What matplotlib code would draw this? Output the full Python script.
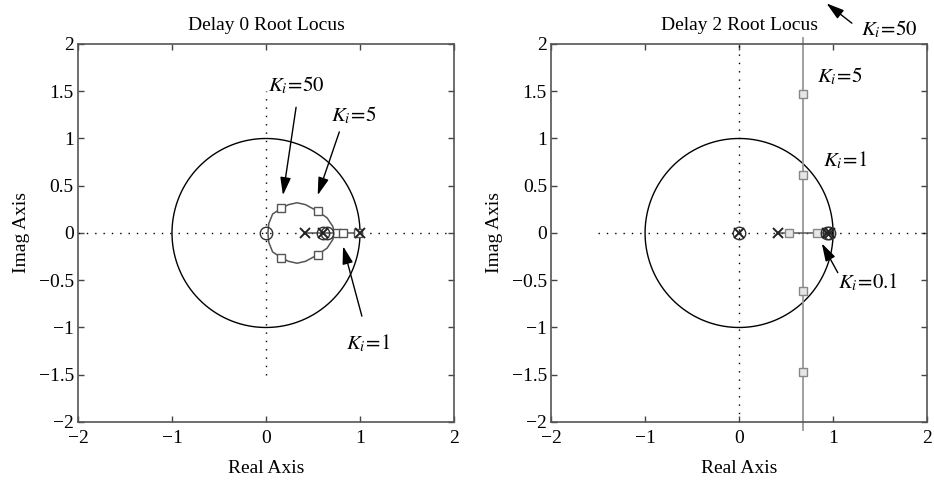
import matplotlib
matplotlib.use('Agg')
import matplotlib.pyplot as plt
import numpy as np

plt.rcParams['font.family'] = ['Liberation Serif', 'DejaVu Serif']
plt.rcParams['mathtext.fontset'] = 'stix'

# axis ticks
x_ticks = [-2, -1, 0, 1, 2]
x_labels = ['\u22122', '\u22121', '0', '1', '2']
y_ticks = [-2, -1.5, -1, -0.5, 0, 0.5, 1, 1.5, 2]
y_labels = ['\u22122', '\u22121.5', '\u22121', '\u22120.5', '0', '0.5', '1', '1.5', '2']

# delay 0 locus (upper half of the loop, lower half is the conjugate)
loop_x = [0.73, 0.71, 0.65, 0.55, 0.42, 0.33, 0.24, 0.16, 0.07, 0.03, 0.02]
loop_y = [0.00, 0.07, 0.16, 0.23, 0.30, 0.32, 0.30, 0.26, 0.20, 0.10, 0.00]
d0_real_seg = [0.41, 1.0]
d0_poles = [0.41, 0.61, 1.0]
d0_zeros = [0.0, 0.61, 0.65]
d0_sq_x = [0.16, 0.55, 0.16, 0.55, 0.75, 0.82, 0.98]
d0_sq_y = [0.26, 0.23, -0.26, -0.23, 0.0, 0.0, 0.0]

# delay 2 locus
d2_real_seg = [0.41, 0.97]
d2_vert_x = 0.68
d2_vert_y = [-2.08, 2.06]
d2_poles = [0.0, 0.41, 0.93, 0.97]
d2_zeros = [0.0, 0.93, 0.96]
d2_sq_x = [0.53, 0.83, 0.68, 0.68, 0.68, 0.68]
d2_sq_y = [0.0, 0.0, 1.47, 0.61, -0.61, -1.47]

# gain labels: (text, text x, text y, arrow tail, arrow head)
d0_notes = [
    (r'$K_i\!=\!50$', 0.32, 1.56, (0.32, 1.33), (0.18, 0.40)),
    (r'$K_i\!=\!5$', 0.93, 1.24, (0.78, 1.07), (0.55, 0.40)),
    (r'$K_i\!=\!1$', 1.085, -1.17, (1.02, -0.88), (0.82, -0.14)),
]
d2_notes = [
    (r'$K_i\!=\!50$', 1.60, 2.15, (1.20, 2.22), (0.93, 2.43)),
    (r'$K_i\!=\!5$', 1.07, 1.66, None, None),
    (r'$K_i\!=\!1$', 1.13, 0.77, None, None),
    (r'$K_i\!=\!0.1$', 1.37, -0.52, (1.05, -0.42), (0.88, -0.11)),
]

fig = plt.figure(figsize=(9.34, 4.86), dpi=100)
ax0 = fig.add_axes([0.0835, 0.1317, 0.4026, 0.7778])
ax2 = fig.add_axes([0.590, 0.1317, 0.4026, 0.7778])

th = np.linspace(0, 2 * np.pi, 400)
dot = (0, (1, 5))
arrow = dict(arrowstyle='-|>,head_length=0.6,head_width=0.18', color='black',
             lw=1.0, mutation_scale=18, shrinkA=0, shrinkB=0)

for ax in (ax0, ax2):
    ax.plot(np.cos(th), np.sin(th), color='black', lw=1.0)
    ax.set_xlim(-2, 2)
    ax.set_ylim(-2, 2)
    ax.set_xticks(x_ticks)
    ax.set_xticklabels(x_labels)
    ax.set_yticks(y_ticks)
    ax.set_yticklabels(y_labels)
    ax.tick_params(direction='in', length=4, width=1, top=True, right=True,
                   labelsize=14, color='#444444', pad=3)
    ax.tick_params(axis='x', pad=6)
    for s in ax.spines.values():
        s.set_color('#555555')
        s.set_linewidth(1.2)
    ax.set_xlabel('Real Axis', fontsize=14, labelpad=9)
    ax.set_ylabel('Imag Axis', fontsize=14, labelpad=6)


def put_notes(ax, notes):
    for txt, tx, ty, tail, head in notes:
        ax.text(tx, ty, txt, fontsize=15, ha='center', va='center', clip_on=False)
        if tail is not None:
            ax.annotate('', xy=head, xytext=tail, arrowprops=arrow,
                        annotation_clip=False)


# ---- Delay 0 ----
ax0.plot([-2, 2], [0, 0], color='black', lw=1, linestyle=dot)
ax0.plot([0, 0], [-1.5, 1.5], color='black', lw=1, linestyle=dot)
lx = np.concatenate([loop_x, loop_x[::-1]])
ly = np.concatenate([loop_y, -np.array(loop_y[::-1])])
ax0.plot(lx, ly, color='#555555', lw=1.1)
ax0.plot(d0_real_seg, [0, 0], color='#555555', lw=1.1)
ax0.plot(d0_sq_x, d0_sq_y, 's', ms=6, mfc='white', mec='#555555', mew=1)
ax0.plot(d0_zeros, [0] * len(d0_zeros), 'o', ms=9, mfc='none', mec='#333333', mew=1)
ax0.plot(d0_poles, [0] * len(d0_poles), 'x', ms=7, color='#222222', mew=1.4)
ax0.set_title('Delay 0 Root Locus', fontsize=14, pad=10)
put_notes(ax0, d0_notes)

# ---- Delay 2 ----
ax2.plot([-1.5, 2], [0, 0], color='black', lw=1, linestyle=dot)
ax2.plot([0, 0], [-2, 2], color='black', lw=1, linestyle=dot)
ax2.plot([d2_vert_x, d2_vert_x], d2_vert_y, color='#999999', lw=1.3, clip_on=False)
ax2.plot(d2_real_seg, [0, 0], color='#555555', lw=1.1)
ax2.plot(d2_sq_x, d2_sq_y, 's', ms=6, mfc='#e6e6e6', mec='#888888', mew=1)
ax2.plot(d2_zeros, [0] * len(d2_zeros), 'o', ms=9, mfc='none', mec='#333333', mew=1)
ax2.plot(d2_poles, [0] * len(d2_poles), 'x', ms=7, color='#222222', mew=1.4)
ax2.set_title('Delay 2 Root Locus', fontsize=14, pad=10)
put_notes(ax2, d2_notes)

fig.savefig('out.png', dpi=100)
